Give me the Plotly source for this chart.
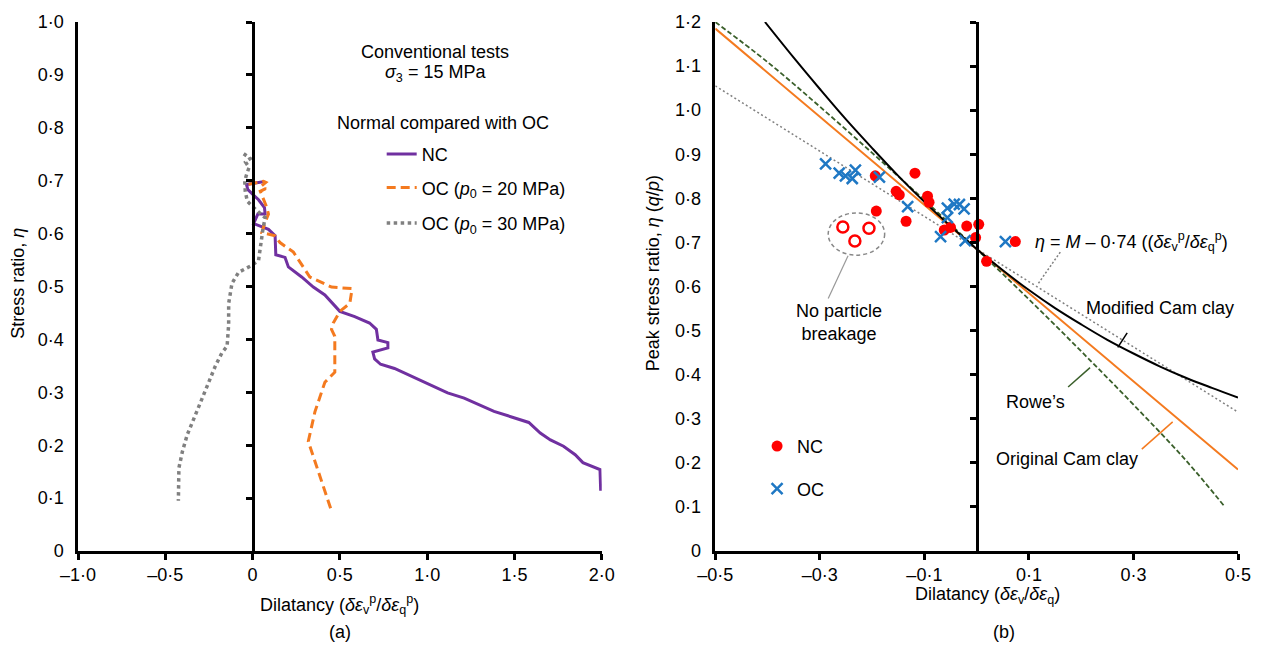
import plotly.graph_objects as go

FONT = "Liberation Sans, Arial, sans-serif"
FS = 18

# ---------------- Panel (a) data ----------------
nc_x = [0.06, -0.035, -0.027, 0.034, 0.068, 0.072, 0.03, 0.006, 0.091, 0.129, 0.133, 0.186, 0.205,
        0.281, 0.348, 0.414, 0.5, 0.585, 0.67, 0.709, 0.718, 0.775, 0.775, 0.689, 0.699, 0.733, 0.813,
        0.984, 1.117, 1.212, 1.383, 1.582, 1.648, 1.706, 1.781, 1.848, 1.892, 1.99, 1.994]
nc_y = [0.698, 0.693, 0.683, 0.664, 0.649, 0.637, 0.637, 0.619, 0.608, 0.596, 0.56, 0.555, 0.537,
        0.518, 0.499, 0.484, 0.453, 0.443, 0.431, 0.419, 0.399, 0.394, 0.384, 0.376, 0.363, 0.353, 0.345,
        0.319, 0.299, 0.289, 0.264, 0.243, 0.223, 0.21, 0.198, 0.182, 0.167, 0.154, 0.114]

oc20_x = [-0.023, 0.063, 0.076, 0.05, 0.075, 0.044, 0.082, 0.091, 0.068, 0.053, 0.129, 0.157, 0.234,
          0.328, 0.452, 0.57, 0.557, 0.5, 0.462, 0.452, 0.471, 0.471, 0.414, 0.357, 0.319, 0.376, 0.452]
oc20_y = [0.693, 0.699, 0.697, 0.69, 0.685, 0.68, 0.649, 0.637, 0.618, 0.602, 0.596, 0.583, 0.565,
          0.518, 0.499, 0.496, 0.468, 0.453, 0.431, 0.419, 0.406, 0.338, 0.319, 0.263, 0.207, 0.151, 0.076]

oc30_x = [-0.051, -0.013, -0.04, -0.02, -0.032, -0.045, -0.042, -0.03, 0.02, 0.072, 0.06, 0.053, 0.034,
          -0.004, -0.08, -0.118, -0.137, -0.137, -0.146, -0.175, -0.213, -0.251, -0.289, -0.336, -0.374,
          -0.402, -0.422, -0.425]
oc30_y = [0.751, 0.742, 0.735, 0.725, 0.714, 0.70, 0.68, 0.661, 0.645, 0.63, 0.61, 0.593, 0.549,
          0.54, 0.527, 0.506, 0.468, 0.428, 0.387, 0.375, 0.35, 0.319, 0.288, 0.254, 0.22,
          0.188, 0.157, 0.095]

a_xticks = [-1.0, -0.5, 0, 0.5, 1.0, 1.5, 2.0]
a_xticktext = ["–1·0", "–0·5", "0", "0·5", "1·0", "1·5", "2·0"]
a_yticks = [0, 0.1, 0.2, 0.3, 0.4, 0.5, 0.6, 0.7, 0.8, 0.9, 1.0]
a_yticktext = ["0", "0·1", "0·2", "0·3", "0·4", "0·5", "0·6", "0·7", "0·8", "0·9", "1·0"]

# ---------------- Panel (b) data ----------------
ncp_x = [-0.194, -0.118, -0.154, -0.148, -0.192, -0.135, -0.094, -0.091, -0.062, -0.05,
         -0.019, 0.004, -0.002, 0.074, 0.019]
ncp_y = [0.851, 0.857, 0.816, 0.808, 0.771, 0.748, 0.805, 0.791, 0.728, 0.734,
         0.737, 0.741, 0.711, 0.702, 0.657]

ocp_x = [-0.289, -0.263, -0.251, -0.238, -0.232, -0.186, -0.132, -0.056, -0.043, -0.033,
         -0.024, -0.056, -0.069, -0.022, 0.055]
ocp_y = [0.878, 0.857, 0.851, 0.845, 0.864, 0.848, 0.781, 0.778, 0.787, 0.786,
         0.776, 0.756, 0.713, 0.704, 0.702]

nobreak_x = [-0.256, -0.206, -0.233]
nobreak_y = [0.735, 0.732, 0.703]

occ_x = [-0.5, 0.5]
occ_y = [1.185, 0.185]

rowe_x = [-0.5, -0.4, -0.3, -0.2, -0.1, 0.0, 0.1, 0.2, 0.3, 0.4, 0.475]
rowe_y = [1.200, 1.109, 1.008, 0.903, 0.796, 0.685, 0.571, 0.453, 0.332, 0.206, 0.100]

mcc_x = [-0.405, -0.35, -0.3, -0.25, -0.2, -0.15, -0.1, -0.05, 0.0, 0.05, 0.1, 0.15, 0.2,
         0.25, 0.3, 0.35, 0.4, 0.45, 0.5]
mcc_y = [1.200, 1.119, 1.048, 0.979, 0.914, 0.851, 0.792, 0.737, 0.685, 0.637, 0.592, 0.551, 0.514,
         0.479, 0.448, 0.419, 0.393, 0.370, 0.348]

fit_x = [-0.5, 0.5]
fit_y = [1.055, 0.315]

b_xticks = [-0.5, -0.3, -0.1, 0.1, 0.3, 0.5]
b_xticktext = ["–0·5", "–0·3", "–0·1", "0·1", "0·3", "0·5"]
b_yticks = [0, 0.1, 0.2, 0.3, 0.4, 0.5, 0.6, 0.7, 0.8, 0.9, 1.0, 1.1, 1.2]
b_yticktext = ["0", "0·1", "0·2", "0·3", "0·4", "0·5", "0·6", "0·7", "0·8", "0·9", "1·0", "1·1", "1·2"]

PURPLE = "#7030A0"
ORANGE = "#F47A1F"
GRAY = "#808080"
RED = "#FF0000"
BLUE = "#1F78C4"
GREEN = "#3A5F2A"

fig = go.Figure()

# Panel (a)
fig.add_trace(go.Scatter(x=nc_x, y=nc_y, mode="lines", name="NC",
                         line=dict(color=PURPLE, width=3), xaxis="x", yaxis="y", legend="legend"))
fig.add_trace(go.Scatter(x=oc20_x, y=oc20_y, mode="lines", name="OC (<i>p</i><sub>0</sub> = 20 MPa)",
                         line=dict(color=ORANGE, width=3, dash="9px,5px"), xaxis="x", yaxis="y",
                         legend="legend2"))
fig.add_trace(go.Scatter(x=oc30_x, y=oc30_y, mode="lines", name="OC (<i>p</i><sub>0</sub> = 30 MPa)",
                         line=dict(color=GRAY, width=3.5, dash="dot"), xaxis="x", yaxis="y",
                         legend="legend3"))
fig.add_trace(go.Scatter(x=[], y=[], xaxis="x", yaxis="y3", showlegend=False, hoverinfo="skip"))

# Panel (b) lines
fig.add_trace(go.Scatter(x=fit_x, y=fit_y, mode="lines", line=dict(color=GRAY, width=1.5, dash="2px,2.5px"),
                         xaxis="x2", yaxis="y2", showlegend=False))
fig.add_trace(go.Scatter(x=occ_x, y=occ_y, mode="lines", line=dict(color=ORANGE, width=2),
                         xaxis="x2", yaxis="y2", showlegend=False))
fig.add_trace(go.Scatter(x=rowe_x, y=rowe_y, mode="lines", line=dict(color=GREEN, width=1.8, dash="5px,2.5px"),
                         line_shape="spline", xaxis="x2", yaxis="y2", showlegend=False))
fig.add_trace(go.Scatter(x=mcc_x, y=mcc_y, mode="lines", line=dict(color="black", width=2),
                         line_shape="spline", xaxis="x2", yaxis="y2", showlegend=False))
fig.add_trace(go.Scatter(x=[], y=[], xaxis="x2", yaxis="y4", showlegend=False, hoverinfo="skip"))

# Panel (b) points
fig.add_trace(go.Scatter(x=ncp_x, y=ncp_y, mode="markers", name="NC",
                         marker=dict(color=RED, size=11), xaxis="x2", yaxis="y2", legend="legend4"))
fig.add_trace(go.Scatter(x=ocp_x, y=ocp_y, mode="markers", name="OC",
                         marker=dict(symbol="x-thin", size=11, color=BLUE, line=dict(width=2.5, color=BLUE)),
                         xaxis="x2", yaxis="y2", legend="legend5"))
fig.add_trace(go.Scatter(x=nobreak_x, y=nobreak_y, mode="markers",
                         marker=dict(symbol="circle-open", size=11, color=RED, line=dict(width=2.5, color=RED)),
                         xaxis="x2", yaxis="y2", showlegend=False))

axis_common = dict(showgrid=False, zeroline=False, showline=True, linecolor="black", linewidth=2.5,
                   tickfont=dict(family=FONT, size=FS, color="black"))

XA = [0, 0.4515]
XB = [0.5494, 1.0]

fig.update_layout(
    width=1263, height=646, autosize=False,
    margin=dict(l=78, r=20, t=15, b=95),
    paper_bgcolor="white", plot_bgcolor="white",
    font=dict(family=FONT, size=FS, color="black"),
    xaxis=dict(domain=XA, range=[-1, 2], anchor="y", ticks="outside", ticklen=6, tickwidth=2.5,
               tickcolor="black", tickvals=a_xticks, ticktext=a_xticktext, **axis_common),
    yaxis=dict(domain=[0, 1], range=[0, 1], anchor="x", ticks="", tickvals=a_yticks,
               ticktext=a_yticktext, ticklabelstandoff=8, **axis_common),
    yaxis3=dict(overlaying="y", anchor="free", position=XA[0] + (XA[1] - XA[0]) / 3, side="left",
                range=[0, 1], ticks="outside", ticklen=6, tickwidth=2.5, tickcolor="black",
                tickvals=a_yticks[1:], showticklabels=False, **axis_common),
    xaxis2=dict(domain=XB, range=[-0.5, 0.5], anchor="y2", ticks="outside", ticklen=6, tickwidth=2.5,
                tickcolor="black", tickvals=b_xticks, ticktext=b_xticktext, **axis_common),
    yaxis2=dict(domain=[0, 1], range=[0, 1.2], anchor="x2", ticks="", tickvals=b_yticks,
                ticktext=b_yticktext, ticklabelstandoff=8, **axis_common),
    yaxis4=dict(overlaying="y2", anchor="free", position=(XB[0] + XB[1]) / 2, side="left",
                range=[0, 1.2], ticks="outside", ticklen=6, tickwidth=2.5, tickcolor="black",
                tickvals=b_yticks[1:], showticklabels=False, **axis_common),
    showlegend=True,
)

def px2x(p):
    return (p - 78) / 1165.0

def py2y(p):
    return (551 - p) / 536.0

leg_common = dict(bgcolor="rgba(0,0,0,0)", borderwidth=0, font=dict(family=FONT, size=FS),
                  xanchor="left", yanchor="middle")
fig.update_layout(
    legend=dict(x=px2x(383), y=py2y(149), **leg_common),
    legend2=dict(x=px2x(383), y=py2y(183), **leg_common),
    legend3=dict(x=px2x(383), y=py2y(219), **leg_common),
    legend4=dict(x=px2x(760), y=py2y(445), **leg_common),
    legend5=dict(x=px2x(760), y=py2y(488), **leg_common),
)

ann = []
def pa(text, x, y, **kw):
    d = dict(text=text, x=x, y=y, xref="paper", yref="paper", showarrow=False,
             font=dict(family=FONT, size=FS, color="black"), xanchor="center", yanchor="middle")
    d.update(kw)
    ann.append(d)

def pb(text, x, y, **kw):
    d = dict(text=text, x=x, y=y, xref="x2", yref="y2", showarrow=False,
             font=dict(family=FONT, size=FS, color="black"), xanchor="center", yanchor="middle")
    d.update(kw)
    ann.append(d)

# Panel (a) texts
pa("Conventional tests", px2x(437), py2y(45))
pa("<i>σ</i><sub>3</sub> = 15 MPa", px2x(437), py2y(67))
pa("Normal compared with OC", px2x(445), py2y(117))
pa("Stress ratio, <i>η</i>", px2x(17), py2y(280), textangle=-90)
pa("Dilatancy (<i>δε</i><sub>v</sub><sup>p</sup>/<i>δε</i><sub>q</sub><sup>p</sup>)", px2x(341), py2y(605))
pa("(a)", px2x(341), py2y(633))

# Panel (b) texts
pa("Peak stress ratio, <i>η</i> (<i>q</i>/<i>p</i>)", px2x(655), py2y(270), textangle=-90)
pa("Dilatancy (<i>δε</i><sub>v</sub>/<i>δε</i><sub>q</sub>)", px2x(991), py2y(596))
pa("(b)", px2x(1008), py2y(633))
pb("<i>η</i> = <i>M</i> – 0·74 ((<i>δε</i><sub>v</sub><sup>p</sup>/<i>δε</i><sub>q</sub><sup>p</sup>)", 0.297, 0.701)
pb("Modified Cam clay", 0.35, 0.551)
pb("Rowe’s", 0.112, 0.338)
pb("Original Cam clay", 0.173, 0.208)
pb("No particle<br>breakage", -0.263, 0.518)

fig.update_layout(annotations=ann)

shapes = [
    dict(type="circle", xref="x2", yref="y2", x0=-0.284, x1=-0.176, y0=0.671, y1=0.767,
         line=dict(color="#888888", width=1.5, dash="4px,3px")),
    dict(type="line", xref="x2", yref="y2", x0=-0.246, y0=0.67, x1=-0.284, y1=0.573,
         line=dict(color="#999999", width=1.2)),
    dict(type="line", xref="x2", yref="y2", x0=0.16, y0=0.678, x1=0.118, y1=0.607,
         line=dict(color=GRAY, width=1.5, dash="2px,2px")),
    dict(type="line", xref="x2", yref="y2", x0=0.288, y0=0.495, x1=0.27, y1=0.462,
         line=dict(color="black", width=1.5)),
    dict(type="line", xref="x2", yref="y2", x0=0.175, y0=0.372, x1=0.217, y1=0.416,
         line=dict(color=GREEN, width=1.5)),
    dict(type="line", xref="x2", yref="y2", x0=0.316, y0=0.231, x1=0.375, y1=0.293,
         line=dict(color=ORANGE, width=1.5)),
]
fig.update_layout(shapes=shapes)

fig.write_html("out.html")
